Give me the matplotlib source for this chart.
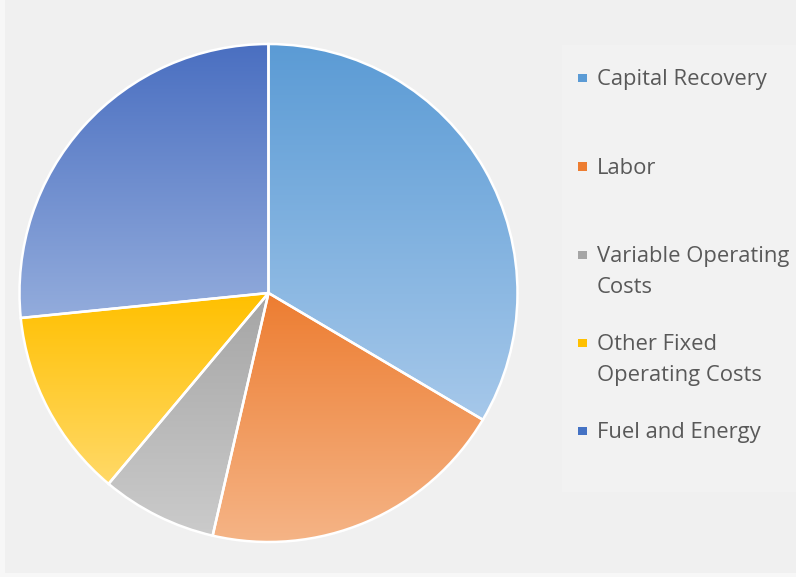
import numpy as np
import matplotlib
matplotlib.use("Agg")
import matplotlib.pyplot as plt
from matplotlib.colors import LinearSegmentedColormap
from matplotlib.patches import Rectangle

categories = ["Capital Recovery", "Labor", "Variable Operating\nCosts",
              "Other Fixed\nOperating Costs", "Fuel and Energy"]
values = [33.5, 20.1, 7.5, 12.3, 26.6]
top_colors = ["#5b9bd5", "#ed7d31", "#a5a5a5", "#ffc000", "#4a6fc1"]
bottom_colors = ["#a6c8ea", "#f5b486", "#cbcbcb", "#ffd968", "#93acdc"]
legend_colors = ["#5b9bd5", "#ed7d31", "#a5a5a5", "#ffc000", "#4472c4"]

W, H = 796, 577
fig = plt.figure(figsize=(W / 100, H / 100), dpi=100, facecolor="#f0f0f0")

# light border strips / legend panel
fig.patches.append(Rectangle((0, 0), 5 / W, 1, transform=fig.transFigure,
                             facecolor="#f7f7f7", edgecolor="none", zorder=0))
fig.patches.append(Rectangle((0, 0), 1, 4 / H, transform=fig.transFigure,
                             facecolor="#f7f7f7", edgecolor="none", zorder=0))
fig.patches.append(Rectangle((562 / W, 1 - 492 / H), (W - 562) / W, 447 / H,
                             transform=fig.transFigure, facecolor="#f2f2f2",
                             edgecolor="none", zorder=0))

cx, cy, r = 268.5, 293, 249
half = 252
ax = fig.add_axes([(cx - half) / W, (H - cy - half) / H, 2 * half / W, 2 * half / H])
ax.set_facecolor("none")
lim = half / r
ax.set_xlim(-lim, lim)
ax.set_ylim(-lim, lim)
ax.set_aspect("equal")
ax.axis("off")

wedges, _ = ax.pie(values, startangle=90, counterclock=False, radius=1,
                   wedgeprops=dict(edgecolor="white", linewidth=1.8))

for w, tc, bc in zip(wedges, top_colors, bottom_colors):
    ext = w.get_path().get_extents()
    cmap = LinearSegmentedColormap.from_list("g", [bc, tc])
    grad = np.linspace(0, 1, 256).reshape(-1, 1)
    im = ax.imshow(grad, cmap=cmap, origin="lower", aspect="auto",
                   extent=[ext.x0, ext.x1, ext.y0, ext.y1], zorder=1,
                   interpolation="bilinear")
    im.set_clip_path(w)
    w.set_facecolor("none")
    w.set_zorder(2)

ax.set_xlim(-lim, lim)
ax.set_ylim(-lim, lim)

# legend
ys = [78, 167, 255, 343, 431]
for lab, col, y in zip(categories, legend_colors, ys):
    fig.patches.append(Rectangle((578 / W, 1 - (y + 4) / H), 8.5 / W, 8.5 / H,
                                 transform=fig.transFigure, facecolor=col,
                                 edgecolor="none", zorder=3))
    fig.text(597 / W, 1 - (y - 9) / H, lab, ha="left", va="top",
             fontsize=15.8, family="Open Sans", color="#595959",
             linespacing=1.6)

fig.savefig("out.png", dpi=100, facecolor=fig.get_facecolor())
